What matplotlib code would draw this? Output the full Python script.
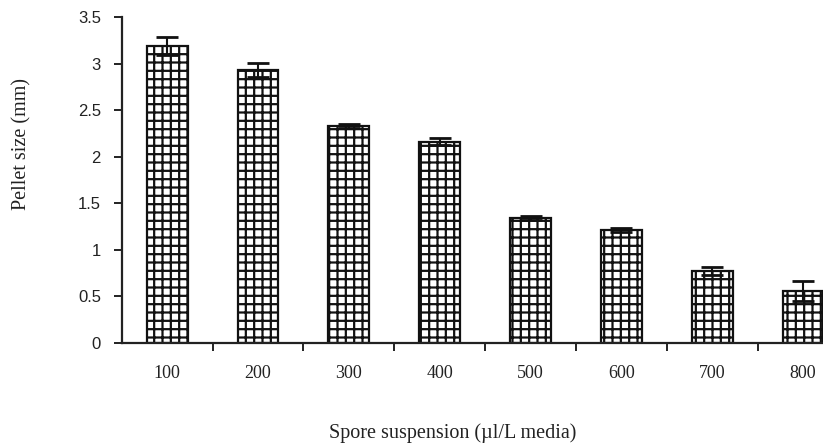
import matplotlib
matplotlib.use("Agg")
import matplotlib.pyplot as plt
import numpy as np

matplotlib.rcParams["hatch.linewidth"] = 1.6

# Spore suspension levels and measured pellet sizes
categories = ["100", "200", "300", "400", "500", "600", "700", "800"]
pellet_size = [3.19, 2.93, 2.33, 2.16, 1.34, 1.21, 0.77, 0.56]
pellet_err = [0.095, 0.08, 0.02, 0.04, 0.02, 0.02, 0.045, 0.11]
y_ticks = [0, 0.5, 1, 1.5, 2, 2.5, 3, 3.5]
y_tick_labels = ["0", "0.5", "1", "1.5", "2", "2.5", "3", "3.5"]

fig = plt.figure(figsize=(8.23, 4.46), dpi=100)
ax = fig.add_axes([0.148, 0.231, 0.852, 0.731])

x = np.arange(len(categories))
ax.bar(x, pellet_size, width=0.45, color="white", edgecolor="#111111",
       linewidth=1.6, hatch="++", zorder=2)
ax.errorbar(x, pellet_size, yerr=pellet_err, fmt="none", ecolor="#111111",
            elinewidth=1.5, capsize=8, capthick=2.0, zorder=3)

ax.set_xlim(-0.5, 7.22)
ax.set_ylim(0, 3.5)

for s in ("top", "right"):
    ax.spines[s].set_visible(False)
ax.spines["left"].set_linewidth(1.6)
ax.spines["bottom"].set_linewidth(1.6)
ax.spines["left"].set_color("#222222")
ax.spines["bottom"].set_color("#222222")

ax.set_yticks(y_ticks)
ax.set_yticklabels(y_tick_labels, family="Liberation Sans", fontsize=12,
                   color="#222222")
ax.tick_params(axis="y", direction="out", length=6, width=1.4, pad=9,
               color="#222222")

# Category labels centered on bars, tick marks at category boundaries
ax.set_xticks(x)
ax.set_xticklabels(categories, family="Liberation Serif", fontsize=13,
                   color="#222222")
ax.tick_params(axis="x", which="major", length=0, pad=16)
ax.set_xticks(np.arange(0.5, 7.5, 1.0), minor=True)
ax.tick_params(axis="x", which="minor", direction="out", length=6, width=1.4,
               color="#222222")

fig.text(0.55, 0.029, "Spore suspension (µl/L media)", ha="center",
         va="center", family="Liberation Serif", fontsize=14.5, color="#222222")
fig.text(0.027, 0.677, "Pellet size (mm)", ha="center", va="center",
         rotation=90, family="Liberation Serif", fontsize=14.5, color="#222222")

fig.savefig("out.png", dpi=100, facecolor="white")
